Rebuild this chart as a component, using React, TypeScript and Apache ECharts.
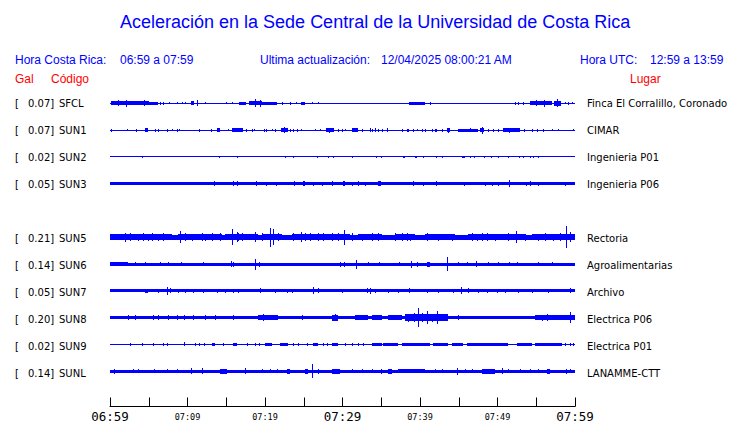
import React, { useEffect, useRef } from "react";
import * as echarts from "echarts";

const TITLE = "Aceleración en la Sede Central de la Universidad de Costa Rica";
const LOCAL_LABEL = "Hora Costa Rica:";
const LOCAL_RANGE = "06:59 a 07:59";
const UPDATE_LABEL = "Ultima actualización:";
const UPDATED = "12/04/2025 08:00:21 AM";
const UTC_LABEL = "Hora UTC:";
const UTC_RANGE = "12:59 a 13:59";

const TIME_TICKS = [0, 10, 20, 30, 40, 50, 60];
const TIME_LABELS = ["06:59", "07:09", "07:19", "07:29", "07:39", "07:49", "07:59"];
const MAJOR_TICKS = [0, 30, 60];

const CODES = ["SFCL", "SUN1", "SUN2", "SUN3", "SUN5", "SUN6", "SUN7", "SUN8", "SUN9", "SUNL"];
const GALS = ["0.07", "0.07", "0.02", "0.05", "0.21", "0.14", "0.05", "0.20", "0.02", "0.14"];
const PLACES = [
  "Finca El Corralillo, Coronado",
  "CIMAR",
  "Ingenieria P01",
  "Ingenieria P06",
  "Rectoria",
  "Agroalimentarias",
  "Archivo",
  "Electrica P06",
  "Electrica P01",
  "LANAMME-CTT",
];
const SLOTS = [0, 1, 2, 3, 5, 6, 7, 8, 9, 10];
// half thickness of the quiet trace
const BASE = [0.5, 0.5, 0.5, 1.6, 2.6, 1.5, 1.5, 1.8, 0.5, 1.6];

// bursts: [start minute, end minute, half amplitude]
const SFCL = [[0.1,5.0,2.2],[1.0,1.0,3],[2.1,2.1,3.5],[4.4,4.4,3],[5.0,6.2,1.5],[6.45,6.45,1.5],[6.9,6.9,1.5],[7.6,7.6,1.2],[8.6,8.6,1],[9.3,9.3,1.2],[9.7,9.7,1],[10.4,10.9,2],[11.2,11.2,3],[12.2,12.2,1],[15.0,15.0,1.2],[15.8,15.8,1.2],[16.6,17.6,1.8],[17.9,19.6,2.2],[18.7,18.7,4],[19.3,19.3,3.5],[19.6,21.5,1.5],[22.2,22.2,1.5],[23.2,23.2,1.5],[24.0,24.0,1.2],[24.7,25.1,1.5],[26.1,26.1,1.2],[26.9,26.9,1.2],[38.6,40.6,1.8],[41.3,41.3,1.8],[52.2,52.2,1.5],[52.7,52.7,1.5],[53.3,53.3,1.5],[54.2,57.0,2.2],[55.0,55.0,3],[56.0,56.0,3.5],[57.3,58.2,2.8],[57.7,57.7,4],[58.7,58.7,1.2],[59.1,59.1,1.5],[59.6,59.6,1.2]];
const SUN1 = [[0.13,0.13,1.5],[2.15,2.15,1.2],[3.3,3.3,1.5],[4.5,4.95,2],[5.8,5.8,1.5],[6.24,6.24,1.5],[7.3,7.3,1.5],[7.96,7.96,1.2],[8.6,8.6,1.5],[8.9,8.9,1.2],[11.5,11.5,1.5],[13.0,13.0,1.5],[13.76,14.19,2],[15.18,15.18,1.2],[15.8,17.1,2],[17.6,17.6,1.5],[18.3,18.3,1.5],[18.6,18.6,1.2],[19.9,19.9,1.5],[20.1,20.1,1.5],[20.9,20.9,1.2],[21.3,21.3,1.5],[22.06,22.92,2.2],[22.4,22.4,3],[23.23,23.23,1.5],[23.57,23.57,1.5],[24.1,24.1,1.5],[24.7,24.7,1.2],[26.4,26.4,1.2],[27.1,27.1,1.2],[27.83,28.95,2],[28.3,28.3,2.5],[29.46,29.46,1.5],[29.98,29.98,1.5],[30.32,30.32,1.2],[31.18,32.04,1.8],[32.47,32.47,1.5],[33.55,33.55,2],[33.76,33.76,1.5],[34.19,34.19,2],[34.62,34.62,1.5],[35.05,35.05,1.5],[35.7,35.91,1.8],[37.63,37.63,1.5],[38.28,38.58,1.5],[39.14,39.14,1.5],[39.57,39.57,1.2],[40.22,40.22,1.5],[40.65,40.65,1.5],[41.51,41.51,1.5],[41.94,42.15,1.5],[42.8,42.8,1.5],[43.44,43.87,2],[43.6,43.6,2.5],[44.86,47.53,1.5],[46.5,46.5,2],[47.8,48.3,2.2],[48.04,48.04,3.5],[48.82,48.82,1.5],[49.46,49.46,1.5],[50.02,50.02,1.5],[50.75,52.9,1.8],[51.5,51.5,2.5],[53.46,53.46,1.5],[54.41,54.41,1.5],[55.05,55.05,1.5],[55.91,55.91,1.5],[56.99,56.99,1.2],[57.85,57.85,1.2],[59.78,59.78,1.2]];
const SUN2 = [[4.09,4.09,1.3],[14.11,14.11,1],[16.34,16.34,1],[22.58,22.58,1.3],[23.66,23.66,1],[26.75,26.75,1.2],[28.09,28.09,1],[28.73,28.73,1.3],[31.18,31.18,1],[34.28,34.28,1],[34.97,34.97,1],[37.76,38.06,1],[39.35,39.66,1.3],[40.43,40.43,1],[42.02,42.02,1],[42.8,42.8,1],[45.38,45.81,1.3],[46.45,46.45,1.3],[47.01,47.01,1],[48.3,48.3,1],[49.16,49.16,1.3],[50.02,50.02,1],[51.4,51.5,1.3],[52.77,52.77,1],[53.33,53.33,1.3],[54.19,54.19,1],[54.62,54.62,1],[55.18,55.18,1]];
const SUN3 = [[13.42,13.42,2.3],[15.83,15.83,2.3],[16.43,16.43,2.8],[18.84,18.84,2.5],[20.09,20.09,2.2],[21.38,21.38,2.2],[23.78,23.78,2.3],[24.95,25.16,2.5],[26.24,26.24,2.2],[27.4,27.4,2.2],[28.6,28.6,2.3],[30.11,30.32,2.6],[31.18,31.18,2.2],[31.96,31.96,2.3],[32.9,32.9,2.2],[34.62,34.97,2.5],[39.1,39.1,2.5],[40.43,40.43,2.2],[42.06,42.06,2.6],[45.72,45.72,2.2],[48.39,48.39,2.2],[49.25,49.25,2.2],[50.02,50.02,2.2],[51.53,51.53,3.5],[53.63,53.63,2.2],[54.19,54.19,2.3],[55.27,55.27,2.2],[58.71,58.71,2.2]];
const SUN5 = [[0,1.08,3],[1.08,7.96,3.2],[8.82,14.41,3.2],[14.84,19.14,3.2],[19.57,22.15,3.2],[23.44,30.97,3.2],[32.04,35.05,3.2],[36.77,39.35,3.2],[40.65,44.52,3.2],[46.24,53.55,3.2],[54.41,60,3.2],[1.94,1.94,4.5],[2.58,2.58,4],[3.66,3.66,3.8],[4.3,4.3,4],[4.86,4.86,3.8],[5.38,5.38,4],[6.24,6.24,3.8],[6.88,6.88,4],[9.03,9.03,6],[9.68,9.68,4],[10.62,10.62,3.8],[11.83,11.83,4],[12.26,12.26,3.8],[13.12,13.12,4],[14.19,14.19,4],[15.7,15.7,8],[16.34,16.34,5],[16.56,16.56,4],[16.99,16.99,4],[18.71,18.71,5],[19.57,19.57,4],[20.65,20.65,9.5],[21.08,21.08,8],[21.72,21.72,4],[23.66,23.66,4],[24.6,24.6,5],[25.16,25.16,4],[25.81,25.81,4],[26.88,26.88,4],[27.53,27.53,4],[28.6,28.6,4],[29.46,29.46,4],[30.24,30.24,7.5],[31.18,31.18,4],[32.47,32.47,3.8],[33.76,33.76,4],[34.62,34.62,4],[36.77,36.77,4],[37.63,37.63,4],[38.28,38.28,4],[38.71,38.71,3.8],[40.86,40.86,4],[42.37,42.37,3.8],[44.09,44.09,3.8],[46.67,46.67,4],[47.31,47.31,3.8],[47.96,47.96,4],[48.6,48.6,4],[49.68,49.68,3.8],[51.4,51.4,4],[52.34,52.34,6],[53.55,53.55,3.8],[55.27,55.27,3.8],[56.13,56.13,4],[57.2,57.2,3.8],[58.06,58.06,4],[58.8,58.8,11],[59.35,59.35,5]];
const SUN6 = [[0,2.37,2],[3.23,3.23,2],[4.52,4.52,2],[6.45,6.45,2.2],[7.53,7.53,2],[9.16,9.16,2],[12.04,12.04,2.3],[15.61,15.61,3],[15.91,15.91,2.5],[18.71,18.71,5.5],[19.23,19.23,2.5],[29.68,29.68,2.5],[30.24,30.24,2.5],[31.7,31.7,4.5],[33.33,33.33,2.2],[34.75,34.75,2.2],[37.33,37.33,2.2],[38.84,38.84,3.5],[39.57,39.57,2.5],[40.86,41.29,2.5],[43.44,43.44,7.3],[44.86,44.86,2.2],[46.02,46.02,2.2],[47.18,47.18,3],[48.82,48.82,2.2],[50.11,50.11,2.2],[51.48,51.48,2.2],[52.47,52.47,2.2],[55.27,55.27,2],[56.99,56.99,2]];
const SUN7 = [[4.52,4.95,2.2],[6.24,6.24,2.2],[7.31,7.31,4],[7.74,7.74,2.5],[8.82,8.82,2.2],[9.68,9.68,2.2],[10.75,10.75,2.2],[12.04,12.04,2.2],[13.76,13.76,2.2],[14.84,14.84,2.2],[15.91,15.91,2.2],[16.56,16.56,2.2],[19.35,19.35,2.5],[21.29,21.29,2.2],[22.8,22.8,2.2],[23.44,23.44,2.2],[26.24,26.24,3.5],[26.88,26.88,2.5],[29.89,29.89,2.2],[33.12,33.12,2.5],[33.55,33.55,3],[34.19,34.19,2.2],[35.91,35.91,2.2],[37.2,37.2,2.2],[38.58,38.58,2.5],[40.86,40.86,2.2],[42.37,42.37,2.2],[44.3,44.3,2.2],[45.29,45.29,3.5],[46.24,46.24,2.5],[47.44,47.44,2.2],[48.6,48.6,2.2],[49.89,49.89,2.2],[50.97,50.97,2.2],[52.69,52.69,2.2],[54.41,54.41,2.2],[56.56,56.56,2.2],[59.35,59.35,2.5]];
const SUN8 = [[19.14,21.72,2.5],[28.6,29.46,3],[31.61,33.33,2.5],[33.76,35.05,2.5],[35.91,37.63,2.5],[38.06,43.66,3.2],[54.84,60,2.5],[2.28,2.28,2.5],[3.23,3.23,2.5],[5.59,5.59,2.5],[6.24,6.24,2.5],[7.44,7.44,2.5],[8.6,8.6,2.5],[9.55,9.55,2.8],[10.75,10.75,2.5],[12.26,12.26,2.5],[13.55,13.55,2.5],[15.91,15.91,2.5],[19.78,19.78,3.5],[24.73,24.73,2.5],[29.03,29.03,3.5],[38.5,38.5,4],[39.2,39.2,4.5],[39.78,39.78,9.5],[40.3,40.3,4.5],[40.86,40.86,6.5],[41.5,41.5,4],[42.24,42.24,6.5],[43.23,43.23,3.5],[44.95,44.95,2.5],[55.7,55.7,3],[56.34,56.34,3.5],[59.35,59.35,5.5]];
const SUN9 = [[20,20.86,1.2],[21.94,23.01,1.2],[28.6,29.46,1.2],[33.76,35.05,1.2],[35.27,37.2,1.2],[37.63,41.29,1.2],[41.72,43.66,1.2],[44.09,45.59,1.2],[46.02,51.4,1.2],[52.47,54.41,1.2],[54.84,58.28,1.2],[2.58,2.58,1.3],[4.09,4.09,1.3],[5.59,5.59,1.3],[6.88,6.88,1.3],[7.4,7.4,1.3],[9.55,9.55,2],[10.97,10.97,1.3],[11.53,11.53,1.3],[12.17,12.17,1.3],[13.12,13.55,1.3],[14.62,14.62,1.3],[15.91,16.34,1.3],[17.63,17.63,1.3],[18.71,18.71,1.3],[19.27,19.27,1.3],[23.66,23.66,1.3],[24.3,24.3,1.3],[25.46,25.46,1.3],[26.24,26.88,1.3],[27.53,27.53,1.3],[27.96,27.96,1.3],[30.32,30.32,1.3],[31.18,31.18,1.3],[32.04,32.04,1.3],[32.69,32.69,1.3],[58.71,58.71,1.3],[59.35,59.35,1.3],[59.78,59.78,1.3]];
const SUNL = [[0.56,0.56,2.5],[3.01,3.01,2.2],[3.66,3.66,2.2],[5.72,5.72,2.2],[7.31,7.31,2.2],[8.6,8.6,2.2],[10.45,10.45,3],[11.83,11.83,3],[14.19,15.05,2.3],[17.42,17.42,3],[19.57,19.57,2.2],[20.65,20.65,2.2],[21.5,21.5,2.2],[22.8,23.23,2.5],[25.16,25.59,2.3],[26.11,26.11,7],[26.88,26.88,2.5],[28.6,29.68,2.3],[31.18,31.18,2.2],[32.47,32.47,2.2],[33.76,33.76,2.2],[34.97,34.97,2.5],[35.91,36.34,2.3],[37.2,40.65,2.2],[41.94,41.94,2.2],[42.8,42.8,2.2],[44.73,44.73,3.5],[45.81,45.81,2.2],[46.67,46.67,2.2],[47.96,49.68,2.5],[50.54,50.54,3],[51.4,51.4,2.2],[52.9,52.9,2.2],[54.19,54.19,2.2],[55.27,55.27,2.2],[56.34,56.77,2.5],[58.8,58.8,2.5],[59.35,59.35,2.2]];

const BURSTS = [SFCL, SUN1, SUN2, SUN3, SUN5, SUN6, SUN7, SUN8, SUN9, SUNL];

const SPACING = 27;
const BLUE = "#0000ff";
const RED = "#ff0000";

export default function App() {
  const ref = useRef<HTMLDivElement>(null);
  useEffect(() => {
    if (!ref.current) return;
    const chart = echarts.init(ref.current, null, { renderer: "svg" });

    const data: number[][] = [];
    CODES.forEach((_, i) => {
      const off = SLOTS[i] * SPACING;
      data.push([0, 60, off, BASE[i]]);
      BURSTS[i].forEach((b) => data.push([b[0], b[1], off, b[2]]));
    });

    const renderItem = (params: any, api: any) => {
      const s = api.value(0);
      const e = api.value(1);
      const off = api.value(2);
      const a = api.value(3);
      const p1 = api.coord([s, off - a]);
      const p2 = api.coord([e, off + a]);
      const x0 = Math.round(p1[0]);
      const x1 = Math.max(Math.round(p2[0]), x0 + 1);
      const ya = Math.round(Math.min(p1[1], p2[1]));
      const yb = Math.max(Math.round(Math.max(p1[1], p2[1])), ya + 1);
      return {
        type: "rect",
        shape: { x: x0, y: ya, width: x1 - x0, height: yb - ya },
        style: { fill: BLUE },
      };
    };

    const hdr = { fontFamily: "Liberation Sans", fontSize: 12 };
    const lbl = { fontFamily: "DejaVu Sans", fontSize: 10, fill: "#000" };
    const t = (x: number, y: number, text: string, style: any) => ({
      type: "text",
      x,
      y,
      style: { text, verticalAlign: "middle", align: "left", ...style },
    });

    const graphics: any[] = [
      t(120, 22, TITLE, { fontFamily: "Liberation Sans", fontSize: 18, fill: BLUE }),
      t(15, 60, LOCAL_LABEL, { ...hdr, fill: BLUE }),
      t(120, 60, LOCAL_RANGE, { ...hdr, fill: BLUE }),
      t(260, 60, UPDATE_LABEL, { ...hdr, fill: BLUE }),
      t(381, 60, UPDATED, { ...hdr, fill: BLUE }),
      t(580, 60, UTC_LABEL, { ...hdr, fill: BLUE }),
      t(650, 60, UTC_RANGE, { ...hdr, fill: BLUE }),
      t(15, 79, "Gal", { ...hdr, fill: RED }),
      t(51, 79, "Código", { ...hdr, fill: RED }),
      t(630, 79, "Lugar", { ...hdr, fill: RED }),
    ];
    CODES.forEach((code, i) => {
      const y = 103.5 + SLOTS[i] * SPACING;
      graphics.push(t(15, y, "[", lbl));
      graphics.push(t(28, y, GALS[i] + "]", lbl));
      graphics.push(t(59, y, code, lbl));
      graphics.push(t(587, y, PLACES[i], lbl));
    });

    chart.setOption({
      animation: false,
      backgroundColor: "#fff",
      grid: { left: 110, right: 165, top: 76.5, bottom: 14 },
      xAxis: {
        type: "value",
        min: 0,
        max: 60,
        interval: 5,
        position: "bottom",
        splitLine: { show: false },
        axisLine: { show: true, onZero: false, lineStyle: { color: "#000", width: 1 } },
        axisTick: { show: true, inside: true, length: 9, lineStyle: { color: "#000", width: 1 } },
        axisLabel: {
          margin: 3,
          showMinLabel: true,
          showMaxLabel: true,
          hideOverlap: false,
          fontWeight: "normal",
          formatter: (v: number) => {
            const k = TIME_TICKS.indexOf(Math.round(v));
            if (k < 0) return "";
            const style = MAJOR_TICKS.includes(TIME_TICKS[k]) ? "big" : "small";
            return `{${style}|${TIME_LABELS[k]}}`;
          },
          rich: {
            big: { fontFamily: "DejaVu Sans Mono", fontSize: 12.5, fontWeight: "normal", color: "#000", lineHeight: 14 },
            small: { fontFamily: "DejaVu Sans Mono", fontSize: 8.5, fontWeight: "normal", color: "#000", lineHeight: 14 },
          },
        },
      },
      yAxis: {
        type: "value",
        inverse: true,
        min: -SPACING,
        max: 332.5 - SPACING,
        show: false,
      },
      series: [
        {
          type: "custom",
          renderItem,
          data,
          clip: false,
          encode: { x: [0, 1], y: [2] },
        },
      ],
      graphic: graphics,
    });
    return () => chart.dispose();
  }, []);
  return (
    <div
      ref={ref}
      style={{ position: "fixed", left: 0, top: 0, width: 740, height: 423, background: "#fff" }}
    />
  );
}
